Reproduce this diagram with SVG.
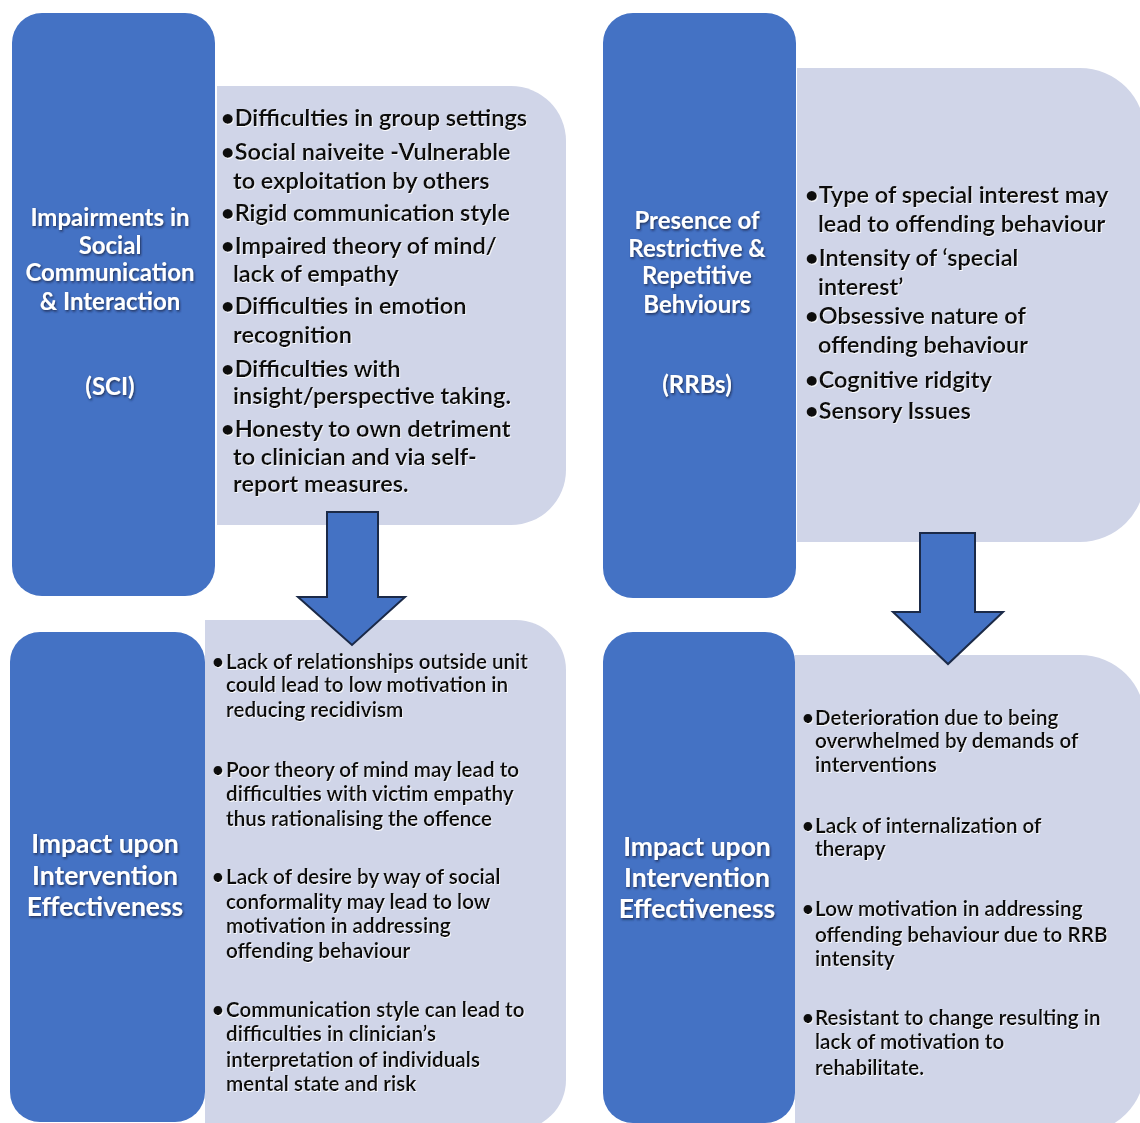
<svg xmlns="http://www.w3.org/2000/svg" width="1140" height="1123" viewBox="0 0 1140 1123">
<defs>
<filter id="sh" x="-10%" y="-10%" width="120%" height="130%">
<feDropShadow dx="1" dy="1.5" stdDeviation="0.8" flood-color="#1a2340" flood-opacity="0.8"/>
</filter>
<filter id="gl" x="-5%" y="-10%" width="110%" height="130%">
<feDropShadow dx="0.8" dy="1" stdDeviation="0.6" flood-color="#ffffff" flood-opacity="0.9"/>
</filter>
</defs>
<style>
.blue{fill:#4472C4;}
.light{fill:#D0D5E8;}
.arrow{fill:#4472C4;stroke:#1b2a48;stroke-width:2;stroke-linejoin:miter;}
.ht{font-family:Lato,"Liberation Sans",sans-serif;font-weight:bold;fill:#ffffff;text-anchor:middle;font-size:24px;}
.ht2{font-family:Lato,"Liberation Sans",sans-serif;font-weight:bold;fill:#ffffff;text-anchor:middle;font-size:26.5px;}
.bt{font-family:Lato,"Liberation Sans",sans-serif;font-weight:bold;fill:#111111;font-size:23.5px;}
.st{font-family:Lato,"Liberation Sans",sans-serif;font-weight:bold;fill:#111111;font-size:20.6px;}
</style>
<rect width="1140" height="1123" fill="#ffffff"/>

<g id="sci-details">
<path class="light" d="M217,86 H511 A55,55 0 0 1 566,141 V470 A55,55 0 0 1 511,525 H217 Z"/>
<g filter="url(#gl)">
<text class="bt" x="221" y="126">•Difficulties in group settings</text>
<text class="bt" x="221" y="160">•Social naiveite -Vulnerable</text>
<text class="bt" x="233" y="189">to exploitation by others</text>
<text class="bt" x="221" y="221">•Rigid communication style</text>
<text class="bt" x="221" y="254">•Impaired theory of mind/</text>
<text class="bt" x="233" y="282">lack of empathy</text>
<text class="bt" x="221" y="314">•Difficulties in emotion</text>
<text class="bt" x="233" y="343">recognition</text>
<text class="bt" x="221" y="377">•Difficulties with</text>
<text class="bt" x="233" y="404">insight/perspective taking.</text>
<text class="bt" x="221" y="437">•Honesty to own detriment</text>
<text class="bt" x="233" y="465">to clinician and via self-</text>
<text class="bt" x="233" y="492">report measures.</text>
</g>
</g>

<g id="sci">
<rect class="blue" x="12" y="13" width="203" height="583" rx="30" ry="30"/>
<g filter="url(#sh)">
<text class="ht" x="110" y="226">Impairments in</text>
<text class="ht" x="110" y="254">Social</text>
<text class="ht" x="110" y="281">Communication</text>
<text class="ht" x="110" y="310">&amp; Interaction</text>
<text class="ht" x="110" y="395">(SCI)</text>
</g>
</g>

<g id="rrb-details">
<path class="light" d="M797,68 H1080 A65,65 0 0 1 1145,133 V477 A65,65 0 0 1 1080,542 H797 Z"/>
<g filter="url(#gl)">
<text class="bt" x="805" y="203">•Type of special interest may</text>
<text class="bt" x="818" y="232">lead to offending behaviour</text>
<text class="bt" x="805" y="266">•Intensity of ‘special</text>
<text class="bt" x="818" y="295">interest’</text>
<text class="bt" x="805" y="324">•Obsessive nature of</text>
<text class="bt" x="818" y="353">offending behaviour</text>
<text class="bt" x="805" y="388">•Cognitive ridgity</text>
<text class="bt" x="805" y="419">•Sensory Issues</text>
</g>
</g>

<g id="rrb">
<rect class="blue" x="603" y="13" width="193" height="585" rx="30" ry="30"/>
<g filter="url(#sh)">
<text class="ht" x="697" y="229">Presence of</text>
<text class="ht" x="697" y="257">Restrictive &amp;</text>
<text class="ht" x="697" y="284">Repetitive</text>
<text class="ht" x="697" y="313">Behviours</text>
<text class="ht" x="697" y="393">(RRBs)</text>
</g>
</g>

<g id="sci-impact-details">
<path class="light" d="M205,620 H516 A50,50 0 0 1 566,670 V1080 A50,50 0 0 1 516,1130 H205 Z"/>
<g filter="url(#gl)">
<text class="st" x="212" y="669">•</text>
<text class="st" x="226" y="669">Lack of relationships outside unit</text>
<text class="st" x="226" y="692">could lead to low motivation in</text>
<text class="st" x="226" y="717">reducing recidivism</text>
<text class="st" x="212" y="777">•</text>
<text class="st" x="226" y="777">Poor theory of mind may lead to</text>
<text class="st" x="226" y="801">difficulties with victim empathy</text>
<text class="st" x="226" y="826">thus rationalising the offence</text>
<text class="st" x="212" y="884">•</text>
<text class="st" x="226" y="884">Lack of desire by way of social</text>
<text class="st" x="226" y="909">conformality may lead to low</text>
<text class="st" x="226" y="933">motivation in addressing</text>
<text class="st" x="226" y="958">offending behaviour</text>
<text class="st" x="212" y="1017">•</text>
<text class="st" x="226" y="1017">Communication style can lead to</text>
<text class="st" x="226" y="1041">difficulties in clinician’s</text>
<text class="st" x="226" y="1067">interpretation of individuals</text>
<text class="st" x="226" y="1091">mental state and risk</text>
</g>
</g>

<g id="sci-impact">
<rect class="blue" x="10" y="632" width="195" height="490" rx="30" ry="30"/>
<g filter="url(#sh)">
<text class="ht2" x="105" y="853">Impact upon</text>
<text class="ht2" x="105" y="885">Intervention</text>
<text class="ht2" x="105" y="916">Effectiveness</text>
</g>
</g>

<g id="rrb-impact-details">
<path class="light" d="M795,655 H1080 A65,65 0 0 1 1145,720 V1068 A65,65 0 0 1 1080,1133 H795 Z"/>
<g filter="url(#gl)">
<text class="st" x="802" y="725">•</text>
<text class="st" x="815" y="725">Deterioration due to being</text>
<text class="st" x="815" y="748">overwhelmed by demands of</text>
<text class="st" x="815" y="772">interventions</text>
<text class="st" x="802" y="833">•</text>
<text class="st" x="815" y="833">Lack of internalization of</text>
<text class="st" x="815" y="856">therapy</text>
<text class="st" x="802" y="916">•</text>
<text class="st" x="815" y="916">Low motivation in addressing</text>
<text class="st" x="815" y="942">offending behaviour due to RRB</text>
<text class="st" x="815" y="966">intensity</text>
<text class="st" x="802" y="1025">•</text>
<text class="st" x="815" y="1025">Resistant to change resulting in</text>
<text class="st" x="815" y="1049">lack of motivation to</text>
<text class="st" x="815" y="1075">rehabilitate.</text>
</g>
</g>

<g id="rrb-impact">
<rect class="blue" x="603" y="632" width="192" height="491" rx="30" ry="30"/>
<g filter="url(#sh)">
<text class="ht2" x="697" y="856">Impact upon</text>
<text class="ht2" x="697" y="887">Intervention</text>
<text class="ht2" x="697" y="918">Effectiveness</text>
</g>
</g>

<g id="connectors">
<polygon class="arrow" points="327,512 378,512 378,597 405,597 352,645 298,597 327,597"/>
<polygon class="arrow" points="920,533 975,533 975,612 1003,612 948,664 893,612 920,612"/>
</g>
</svg>
